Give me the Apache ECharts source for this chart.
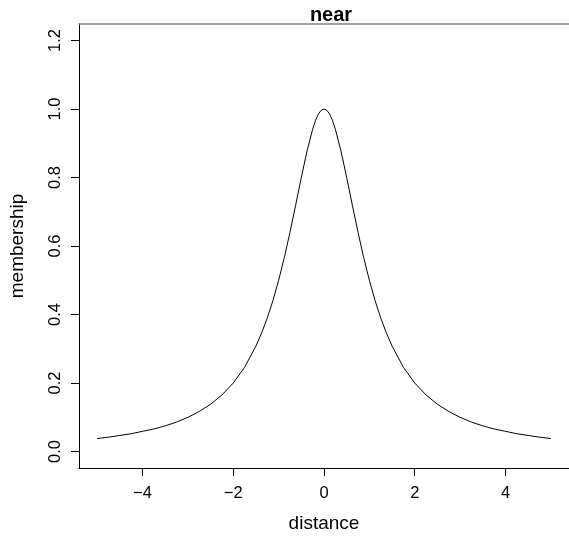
<!DOCTYPE html>
<html>
<head>
<meta charset="utf-8">
<script src="https://cdn.jsdelivr.net/npm/echarts@6/dist/echarts.min.js"></script>
<style>
  html, body { margin: 0; padding: 0; background: #fff; overflow: hidden; }
  #chart { width: 569px; height: 538px; }
</style>
</head>
<body>
<div id="chart"></div>
<script>
// Membership curve for the fuzzy set "near"
const distance = [
  -5, -4.75, -4.5, -4.25, -4, -3.75, -3.5, -3.25, -3, -2.75, -2.5, -2.25, -2,
  -1.75, -1.5, -1.375, -1.25, -1.125, -1, -0.875, -0.75, -0.625, -0.5, -0.375,
  -0.25, -0.1875, -0.125, -0.0625, 0, 0.0625, 0.125, 0.1875, 0.25, 0.375, 0.5,
  0.625, 0.75, 0.875, 1, 1.125, 1.25, 1.375, 1.5, 1.75, 2, 2.25, 2.5, 2.75, 3,
  3.25, 3.5, 3.75, 4, 4.25, 4.5, 4.75, 5
];
const membership = [
  0.038, 0.042, 0.047, 0.052, 0.059, 0.066, 0.075, 0.086, 0.100, 0.117, 0.138,
  0.165, 0.200, 0.246, 0.308, 0.346, 0.390, 0.441, 0.500, 0.566, 0.640, 0.719,
  0.800, 0.877, 0.941, 0.966, 0.985, 0.996, 1.000, 0.996, 0.985, 0.966, 0.941,
  0.877, 0.800, 0.719, 0.640, 0.566, 0.500, 0.441, 0.390, 0.346, 0.308, 0.246,
  0.200, 0.165, 0.138, 0.117, 0.100, 0.086, 0.075, 0.066, 0.059, 0.052, 0.047,
  0.042, 0.038
];
const xTicks = [-4, -2, 0, 2, 4];
const yTicks = [0, 0.2, 0.4, 0.6, 0.8, 1.0, 1.2];

const font = 'Liberation Sans, Arial, Helvetica, sans-serif';
const chart = echarts.init(document.getElementById('chart'), null, { renderer: 'canvas' });

chart.setOption({
  animation: false,
  backgroundColor: '#fff',
  title: {
    text: 'near',
    left: 326,
    textAlign: 'center',
    top: 0,
    textStyle: { fontFamily: font, fontWeight: 'bold', fontSize: 20, color: '#000' }
  },
  grid: { left: 78, top: 24, width: 494, height: 444, show: false },
  xAxis: [{
    type: 'value',
    min: -5.4, max: 5.4,
    position: 'bottom',
    name: 'distance',
    nameLocation: 'middle',
    nameGap: 46,
    nameTextStyle: { fontFamily: font, fontSize: 19, color: '#000' },
    axisLine: { show: true, onZero: false, lineStyle: { color: '#000', width: 1 } },
    splitLine: { show: false },
    axisTick: { show: true, inside: false, length: 8, customValues: xTicks,
      lineStyle: { color: '#000', width: 1 } },
    axisLabel: { customValues: xTicks, margin: 17,
      fontFamily: font, fontSize: 16.5, color: '#000',
      formatter: v => (v < 0 ? '\u2212' + Math.abs(v) : String(v)) }
  }, {
    // top edge of the plot box
    type: 'value',
    min: -5.4, max: 5.4,
    position: 'top',
    axisLine: { show: true, onZero: false, lineStyle: { color: '#808080', width: 1.5 } },
    axisTick: { show: false },
    axisLabel: { show: false },
    splitLine: { show: false }
  }],
  yAxis: {
    type: 'value',
    min: -0.048, max: 1.248,
    name: 'membership',
    nameLocation: 'middle',
    nameGap: 52,
    nameRotate: 90,
    nameTextStyle: { fontFamily: font, fontSize: 19, color: '#000' },
    axisLine: { show: true, onZero: false, lineStyle: { color: '#000', width: 1 } },
    splitLine: { show: false },
    axisTick: { show: true, inside: false, length: 8, customValues: yTicks,
      lineStyle: { color: '#000', width: 1 } },
    axisLabel: { customValues: yTicks, rotate: 90, margin: 15,
      fontFamily: font, fontSize: 16.5, color: '#000',
      formatter: v => v.toFixed(1) }
  },
  series: [{
    type: 'line',
    xAxisIndex: 0,
    data: distance.map((d, i) => [d, membership[i]]),
    showSymbol: false,
    smooth: false,
    lineStyle: { color: '#000', width: 1 },
    clip: false
  }]
});
</script>
</body>
</html>
